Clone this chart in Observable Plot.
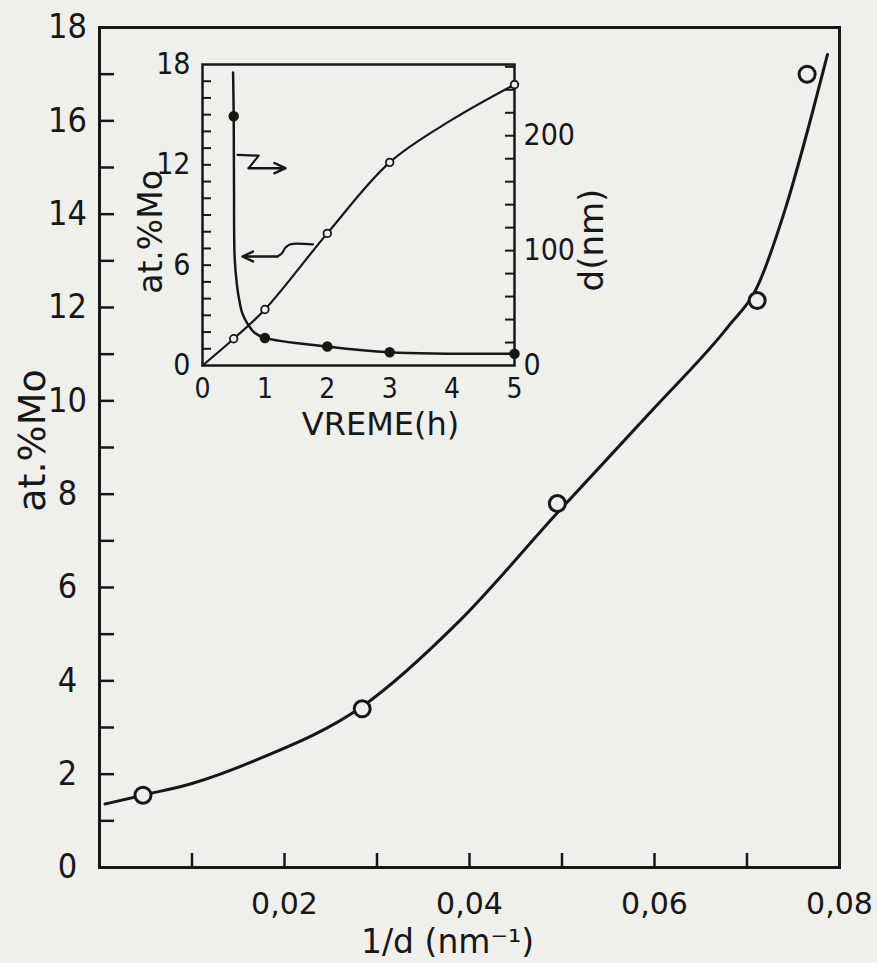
<!DOCTYPE html>
<html><head><meta charset="utf-8">
<script src="https://cdn.jsdelivr.net/npm/d3@7"></script>
<script src="https://cdn.jsdelivr.net/npm/@observablehq/plot@0.6"></script>
<style>
html,body{margin:0;padding:0;background:#efefec;}
#wrap{position:relative;width:877px;height:963px;overflow:hidden;background:#efefec;}
#wrap svg{position:absolute;left:0;top:0;}
</style></head><body><div id="wrap"></div>
<script>
// ---------- main chart: at.% Mo vs 1/d ----------
const invD      = [0.0047, 0.0284, 0.0495, 0.0711, 0.0765];
const atMoMain  = [1.55, 3.4, 7.8, 12.15, 17.0];
// hand-drawn fitted curve
const mainCurveX = [0.0006, 0.0047, 0.0100, 0.0169, 0.0284, 0.0390, 0.0495, 0.0600, 0.0680, 0.0710, 0.0742, 0.0771, 0.0787];
const mainCurveY = [1.36, 1.55, 1.80, 2.30, 3.45, 5.3, 7.6, 9.85, 11.6, 12.4, 14.15, 16.2, 17.42];
const mainXTicks  = [0.01, 0.02, 0.03, 0.04, 0.05, 0.06, 0.07];
const mainXLabels = [0.02, 0.04, 0.06, 0.08];
const mainYTicks  = [1,2,3,4,5,6,7,8,9,10,11,12,13,14,15,16,17];
const mainYLabels = [0,2,4,6,8,10,12,14,16,18];

// ---------- inset: at.% Mo and d(nm) vs time ----------
const time      = [0.5, 1, 2, 3, 5];
const insetAtMo = [1.6, 3.35, 7.9, 12.15, 16.8];
const insetD    = [217, 24, 16.5, 11.6, 10.2];
const atMoCurveT = [0, 0.5, 1, 2, 3, 4, 5];
const atMoCurveY = [0, 1.6, 3.35, 7.9, 12.15, 14.7, 16.8];
const dCurveT = [0.49, 0.5, 0.505, 0.515, 0.55, 0.59, 0.64, 0.72, 0.83, 1, 2, 3, 5];
const dCurveD = [255, 217, 152, 94, 71, 56.5, 45.2, 36.5, 28.7, 24, 16.5, 11.6, 10.2];
const arrowRightT = [0.56, 0.9, 0.74, 1.33];
const arrowRightY = [12.6, 12.55, 11.8, 11.8];
const arrowLeftT  = [1.77, 1.40, 1.33, 1.27, 1.20, 0.64];
const arrowLeftY  = [7.24, 7.24, 7.05, 6.7, 6.52, 6.52];
const insetXLabels = [0, 1, 2, 3, 4, 5];
const insetLeftLabels = [0, 6, 12, 18];
const insetLeftTicks = [1,2,3,4,5,6,7,8,9,10,11,12,13,14,15,16,17];
const insetRightLabels = [0, 100, 200];
const insetRightTicks = [20,40,60,80,100,120,140,160,180,200,220,240,260];
const dMax = 262; // right axis top (nm) at the same height as 18 at.%

const ink = "#171717";
const bg = "#efefec";
const fCond = "'DejaVu Sans Condensed','DejaVu Sans',sans-serif";
const fSans = "'DejaVu Sans',sans-serif";

const zip = (a, b) => a.map((v, i) => [v, b[i]]);
const k = 18 / dMax;

const mainFW = 877 - 99 - 38, mainFH = 963 - 27 - 96;
const main = Plot.plot({
  width: 877, height: 963,
  marginLeft: 99, marginRight: 38, marginTop: 27, marginBottom: 96,
  x: {domain: [0, 0.08], axis: null},
  y: {domain: [0, 18], axis: null},
  style: {background: "transparent", color: ink},
  marks: [
    Plot.frame({stroke: ink, strokeWidth: 3}),
    Plot.tickY(mainYTicks, {y: d => d, insetRight: mainFW - 15, stroke: ink, strokeWidth: 2.5}),
    Plot.tickX(mainXTicks, {x: d => d, insetTop: mainFH - 14, stroke: ink, strokeWidth: 2.5}),
    Plot.text(mainYLabels, {y: d => d, text: d => String(d), frameAnchor: "left", dx: -32,
      textAnchor: "middle", lineAnchor: "middle", fontSize: 34, fontFamily: fCond, fill: ink}),
    Plot.text(mainXLabels, {x: d => d, text: d => d.toFixed(2).replace(".", ","), frameAnchor: "bottom",
      dy: 37, textAnchor: "middle", lineAnchor: "middle", fontSize: 30, fontFamily: fSans, fill: ink}),
    Plot.text(["at.%Mo"], {frameAnchor: "left", text: d => d, rotate: -90, dx: -67, dy: -7,
      textAnchor: "middle", lineAnchor: "middle", fontSize: 38, fontFamily: fSans, fill: ink}),
    Plot.text(["1/d (nm⁻¹)"], {frameAnchor: "bottom", text: d => d, dx: -22, dy: 75,
      textAnchor: "middle", lineAnchor: "middle", fontSize: 33, fontFamily: fSans, fill: ink}),
    Plot.line(zip(mainCurveX, mainCurveY), {x: "0", y: "1", curve: "monotone-x", stroke: ink, strokeWidth: 3}),
    Plot.dot(zip(invD, atMoMain), {x: "0", y: "1", r: 8, stroke: ink, strokeWidth: 3, fill: bg})
  ]
});

const inFW = 877 - 202 - 363, inFH = 963 - 64 - 598;
const inset = Plot.plot({
  width: 877, height: 963,
  marginLeft: 202, marginRight: 363, marginTop: 64, marginBottom: 598,
  x: {domain: [0, 5], axis: null},
  y: {domain: [0, 18], axis: null},
  style: {background: "transparent", color: ink},
  marks: [
    Plot.frame({stroke: ink, strokeWidth: 2.5}),
    Plot.tickY(insetLeftTicks, {y: d => d, insetRight: inFW - 9, stroke: ink, strokeWidth: 2}),
    Plot.tickY(insetRightTicks, {y: d => d * k, insetLeft: inFW - 9, stroke: ink, strokeWidth: 2}),
    Plot.text(insetLeftLabels, {y: d => d, text: d => String(d), frameAnchor: "left", dx: -12,
      textAnchor: "end", lineAnchor: "middle", fontSize: 30, fontFamily: fCond, fill: ink}),
    Plot.text(insetRightLabels, {y: d => d * k, text: d => String(d), frameAnchor: "right", dx: 9,
      textAnchor: "start", lineAnchor: "middle", fontSize: 30, fontFamily: fCond, fill: ink}),
    Plot.text(insetXLabels, {x: d => d, text: d => String(d), frameAnchor: "bottom", dy: 24,
      textAnchor: "middle", lineAnchor: "middle", fontSize: 28, fontFamily: fCond, fill: ink}),
    Plot.text(["VREME(h)"], {frameAnchor: "bottom", text: d => d, dx: 22, dy: 59,
      textAnchor: "middle", lineAnchor: "middle", fontSize: 32, fontFamily: fSans, fill: ink}),
    Plot.text(["at.%Mo"], {frameAnchor: "left", text: d => d, rotate: -90, dx: -51, dy: 17,
      textAnchor: "middle", lineAnchor: "middle", fontSize: 33, fontFamily: fSans, fill: ink}),
    Plot.text(["d(nm)"], {frameAnchor: "right", text: d => d, rotate: -90, dx: 78, dy: 25,
      textAnchor: "middle", lineAnchor: "middle", fontSize: 34, fontFamily: fSans, fill: ink}),
    Plot.line(zip(atMoCurveT, atMoCurveY), {x: "0", y: "1", curve: "catmull-rom", stroke: ink, strokeWidth: 2.2}),
    Plot.line(zip(dCurveT, dCurveD), {x: "0", y: d => d[1] * k, curve: "catmull-rom", stroke: ink, strokeWidth: 2.5}),
    Plot.line(zip(arrowRightT, arrowRightY).slice(0, 3), {x: "0", y: "1", curve: "linear", stroke: ink, strokeWidth: 2.2}),
    Plot.arrow([[arrowRightT[2], arrowRightY[2], arrowRightT[3], arrowRightY[3]]],
      {x1: "0", y1: "1", x2: "2", y2: "3", stroke: ink, strokeWidth: 2.4, headLength: 11, headAngle: 50}),
    Plot.line(zip(arrowLeftT, arrowLeftY).slice(0, 5), {x: "0", y: "1", curve: "catmull-rom", stroke: ink, strokeWidth: 2.2}),
    Plot.arrow([[arrowLeftT[4], arrowLeftY[4], arrowLeftT[5], arrowLeftY[5]]],
      {x1: "0", y1: "1", x2: "2", y2: "3", stroke: ink, strokeWidth: 2.4, headLength: 11, headAngle: 50}),
    Plot.dot(zip(time, insetAtMo), {x: "0", y: "1", r: 3.8, stroke: ink, strokeWidth: 1.8, fill: bg}),
    Plot.dot(zip(time, insetD), {x: "0", y: d => d[1] * k, r: 4.5, fill: ink, stroke: ink})
  ]
});

const wrap = document.getElementById("wrap");
wrap.appendChild(main);
wrap.appendChild(inset);
</script></body></html>
